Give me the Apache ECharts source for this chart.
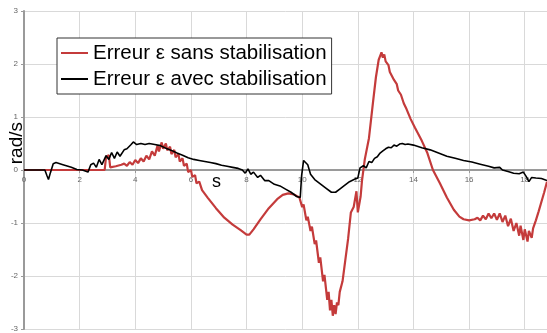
<!DOCTYPE html>
<html>
<head>
<meta charset="utf-8">
<script src="https://cdn.jsdelivr.net/npm/echarts@6/dist/echarts.min.js"></script>
<style>
html,body{margin:0;padding:0;background:#fff;}
#chart{width:547px;height:333px;}
</style>
</head>
<body>
<div id="chart"></div>
<script>
// Series names
var seriesNames = ['Erreur ε sans stabilisation', 'Erreur ε avec stabilisation'];
var xTicks = [0, 2, 4, 6, 8, 10, 12, 14, 16, 18];
var yTicks = [-3, -2, -1, 0, 1, 2, 3];

// Red: error without stabilisation (time in s, value in rad/s)
var tRed = [0, 2.9, 2.95, 3.05, 3.1, 3.3, 3.5,
  3.6, 3.7, 3.8, 3.9, 4.0, 4.1, 4.2, 4.3, 4.4, 4.5, 4.6, 4.7, 4.8, 4.85, 4.95, 5.0, 5.1, 5.15, 5.25, 5.3, 5.4, 5.45, 5.55, 5.6, 5.7, 5.75, 5.85, 5.9, 6.0, 6.05, 6.15, 6.2, 6.3, 6.4,
  6.6, 6.9, 7.2, 7.5, 7.8, 8.0, 8.1, 8.25, 8.5, 8.8, 9.1, 9.3, 9.5, 9.7, 9.9,
  10.0, 10.05, 10.15, 10.2, 10.3, 10.35, 10.45, 10.5, 10.6, 10.65, 10.75, 10.8, 10.9, 10.95, 11.0, 11.05, 11.1, 11.15, 11.2, 11.25, 11.3, 11.35, 11.45, 11.55, 11.65, 11.75, 11.85, 11.95, 12.0, 12.1, 12.15, 12.25, 12.4, 12.55, 12.65, 12.75, 12.8, 12.85, 12.9, 12.95, 13.0, 13.1, 13.15, 13.2, 13.3, 13.4, 13.45, 13.55, 13.65, 13.75, 13.9, 14.05, 14.3, 14.5, 14.7, 14.95, 15.2, 15.45, 15.65, 15.8, 16.0, 16.2,
  16.3, 16.4, 16.5, 16.6, 16.7, 16.8, 16.9, 17.0, 17.1, 17.2, 17.3, 17.4, 17.5, 17.6, 17.7, 17.8, 17.85, 17.95, 18.0, 18.1, 18.15, 18.25, 18.3, 18.4, 18.5, 18.6, 18.7, 18.8];
var eRed = [0, 0, 0.25, 0.28, 0.05, 0.07, 0.1,
  0.12, 0.08, 0.15, 0.1, 0.19, 0.13, 0.22, 0.16, 0.27, 0.2, 0.35, 0.27, 0.46, 0.35, 0.52, 0.4, 0.5, 0.37, 0.44, 0.3, 0.38, 0.24, 0.3, 0.16, 0.22, 0.08, 0.12, -0.04, 0.0, -0.13, -0.1, -0.25, -0.22, -0.38,
  -0.52, -0.72, -0.9, -1.03, -1.14, -1.22, -1.22, -1.12, -0.93, -0.72, -0.55, -0.47, -0.44, -0.46, -0.52,
  -0.7, -0.65, -0.95, -0.88, -1.15, -1.07, -1.4, -1.33, -1.75, -1.65, -2.1, -1.98, -2.45, -2.3, -2.65, -2.45, -2.75, -2.55, -2.72, -2.5, -2.55, -2.3, -2.1, -1.7, -1.3, -0.8, -0.7, -0.4, -0.8, -0.5, -0.2, 0.2, 0.6, 1.3, 1.75, 2.08, 2.15, 2.22, 2.12, 2.18, 2.05, 1.98, 1.85, 1.88, 1.7, 1.62, 1.5, 1.42, 1.26, 1.15, 0.96, 0.8, 0.55, 0.32, 0.0, -0.25, -0.52, -0.75, -0.88, -0.93, -0.95, -0.93,
  -0.9, -0.95, -0.86, -0.93, -0.82, -0.91, -0.82, -0.94, -0.82, -0.98, -0.86, -1.06, -0.92, -1.15, -1.0, -1.24, -1.05, -1.32, -1.12, -1.35, -1.15, -1.28, -1.1, -0.95, -0.78, -0.6, -0.42, -0.22];

// Black: error with stabilisation
var tBlack = [0, 0.75, 0.82, 0.88, 0.95, 1.05, 1.15, 1.4, 1.7, 1.9, 2.1, 2.3, 2.4, 2.5, 2.6, 2.7, 2.8, 2.95, 3.05, 3.15, 3.25, 3.35, 3.45, 3.6, 3.7, 3.85, 3.93, 4.05, 4.2, 4.35, 4.5, 4.7, 4.9, 5.1, 5.3, 5.5, 5.7, 5.9, 6.1, 6.3, 6.5, 6.7, 6.9, 7.1, 7.3, 7.5, 7.7, 7.85, 7.95, 8.05, 8.15, 8.25, 8.4, 8.5, 8.65, 8.8, 9.0, 9.2, 9.4, 9.6, 9.8, 9.93, 9.98, 10.05, 10.1, 10.2, 10.3, 10.45, 10.65, 10.85, 11.05, 11.2, 11.35, 11.5, 11.7, 11.9, 12.0, 12.08, 12.2, 12.3, 12.4, 12.5, 12.6, 12.7, 12.8, 12.9, 13.0, 13.1, 13.2, 13.3, 13.4, 13.5, 13.6, 13.7, 13.8, 14.0, 14.3, 14.6, 14.9, 15.2, 15.5, 15.8, 16.1, 16.4, 16.7, 16.9, 17.1, 17.2, 17.4, 17.6, 17.8, 17.95, 18.05, 18.15, 18.25, 18.4, 18.6, 18.8];
var eBlack = [0, 0, -0.1, -0.18, -0.05, 0.12, 0.14, 0.1, 0.05, 0.01, 0.0, -0.04, 0.1, 0.13, 0.05, 0.2, 0.1, 0.27, 0.2, 0.33, 0.22, 0.34, 0.26, 0.38, 0.4, 0.48, 0.53, 0.48, 0.5, 0.48, 0.5, 0.48, 0.46, 0.41, 0.37, 0.32, 0.28, 0.23, 0.2, 0.18, 0.16, 0.14, 0.12, 0.09, 0.07, 0.05, 0.03, 0.0, -0.06, 0.02, -0.08, -0.04, -0.14, -0.1, -0.2, -0.2, -0.27, -0.3, -0.36, -0.42, -0.5, -0.52, -0.1, 0.18, 0.2, 0.1, -0.08, -0.18, -0.26, -0.34, -0.42, -0.42, -0.36, -0.3, -0.22, -0.17, -0.15, 0.04, 0.08, 0.04, 0.16, 0.14, 0.22, 0.25, 0.32, 0.36, 0.4, 0.43, 0.42, 0.47, 0.45, 0.49, 0.5, 0.48, 0.49, 0.47, 0.42, 0.38, 0.32, 0.26, 0.22, 0.18, 0.15, 0.11, 0.07, 0.04, 0.05, 0.0, -0.03, -0.06, -0.07, -0.04, -0.12, -0.22, -0.14, -0.15, -0.16, -0.2];

function pairs(t, v) { return t.map(function (x, i) { return [x, v[i]]; }); }

var gridTop = 11, gridBottom = 4, H = 333;
var gridH = H - gridTop - gridBottom;

var chart = echarts.init(document.getElementById('chart'), null, {renderer: 'canvas'});
var font = 'Liberation Sans, Arial, sans-serif';
chart.setOption({
  animation: false,
  backgroundColor: '#ffffff',
  grid: {left: 24, right: 0, top: gridTop, bottom: gridBottom, containLabel: false, outerBoundsMode: 'none'},
  legend: {
    data: seriesNames,
    orient: 'vertical',
    left: 57, top: 38,
    backgroundColor: '#ffffff',
    borderColor: '#333333', borderWidth: 1,
    padding: [4, 5, 4, 4],
    itemGap: 4,
    itemWidth: 27, itemHeight: 2,
    itemStyle: {borderWidth: 0},
    icon: 'rect',
    textStyle: {fontFamily: font, fontSize: 20.5, color: '#000', lineHeight: 22, padding: [0, 0, 0, 0]}
  },
  xAxis: {
    type: 'value', min: 0, max: 18.8, interval: 2,
    position: 'bottom',
    offset: -gridH / 2,
    axisLine: {onZero: false, lineStyle: {color: '#9a9a9a', width: 2}},
    axisTick: {show: true, length: 3, lineStyle: {color: '#9a9a9a'}},
    axisLabel: {color: '#666', fontSize: 8, fontFamily: font, margin: 6, showMaxLabel: false,
      formatter: function (v) { return xTicks.indexOf(v) >= 0 ? String(v) : ''; }},
    splitLine: {show: true, lineStyle: {color: '#d9d9d9', width: 1}}
  },
  yAxis: {
    type: 'value', min: -3, max: 3, interval: 1,
    axisLine: {show: true, onZero: false, lineStyle: {color: '#9a9a9a', width: 2}},
    axisTick: {show: true, length: 3, lineStyle: {color: '#9a9a9a'}},
    axisLabel: {color: '#666', fontSize: 8, fontFamily: font, margin: 6,
      formatter: function (v) { return yTicks.indexOf(v) >= 0 ? String(v) : ''; }},
    splitLine: {show: true, lineStyle: {color: '#d9d9d9', width: 1}}
  },
  graphic: [
    {type: 'text', left: 7, top: 122, rotation: Math.PI / 2, style: {text: 'rad/s', font: '19px Liberation Sans, Arial, sans-serif', fill: '#000'}},
    {type: 'text', left: 212, top: 173, style: {text: 's', font: '18px Liberation Sans, Arial, sans-serif', fill: '#000'}}
  ],
  series: [
    {name: seriesNames[0], type: 'line', data: pairs(tRed, eRed), showSymbol: false, symbol: 'none',
      lineStyle: {color: '#c43b3b', width: 2.2}, itemStyle: {color: '#c43b3b'}, z: 2},
    {name: seriesNames[1], type: 'line', data: pairs(tBlack, eBlack), showSymbol: false, symbol: 'none',
      lineStyle: {color: '#000000', width: 1.6}, itemStyle: {color: '#000000'}, z: 3}
  ]
});
</script>
</body>
</html>
